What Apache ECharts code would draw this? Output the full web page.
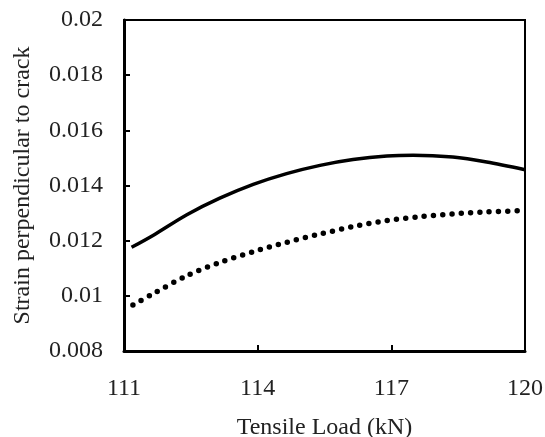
<!DOCTYPE html>
<html>
<head>
<meta charset="utf-8">
<script src="https://cdn.jsdelivr.net/npm/echarts@6/dist/echarts.min.js"></script>
<style>
html,body{margin:0;padding:0;background:#fff;}
#chart{width:545px;height:437px;}
</style>
</head>
<body>
<div id="chart"></div>
<script>
var loadSolid = [111.17, 111.66, 112.41, 113.15, 113.9, 114.65, 115.4, 116.14, 116.9, 117.49, 118.38, 119.14, 120.0];
var strainSolid = [0.01176, 0.0122, 0.01294, 0.01354, 0.01404, 0.01443, 0.01473, 0.01494, 0.01507, 0.0151, 0.01503, 0.01485, 0.01457];
var loadDotted = [111.2, 111.66, 112.41, 113.15, 113.9, 114.65, 115.4, 116.14, 116.9, 117.64, 118.38, 119.14, 119.95];
var strainDotted = [0.00967, 0.01008, 0.01073, 0.01121, 0.0116, 0.01194, 0.01224, 0.01251, 0.01273, 0.01287, 0.01297, 0.01304, 0.01309];
var xTicks = [111, 114, 117, 120];
var yTicks = [0.008, 0.01, 0.012, 0.014, 0.016, 0.018, 0.02];

function pairs(xs, ys){ return xs.map(function(x,i){ return [x, ys[i]]; }); }

var font = "'Liberation Serif', 'Times New Roman', serif";
var chart = echarts.init(document.getElementById('chart'), null, {renderer:'canvas'});
chart.setOption({
  animation: false,
  grid: {left:124, right:20, top:20, bottom:86, containLabel:false, outerBoundsMode:'none',
         show:true, borderColor:'#000', borderWidth:2, backgroundColor:'transparent'},
  xAxis: {
    type:'value', min:xTicks[0], max:xTicks[xTicks.length-1], interval:3,
    name:'Tensile Load (kN)', nameLocation:'middle', nameGap:65,
    nameTextStyle:{fontFamily:font, fontSize:24, color:'#222'},
    axisLine:{show:true, onZero:false, lineStyle:{color:'#000', width:3}},
    axisTick:{show:true, inside:true, length:6, lineStyle:{color:'#000', width:2}},
    axisLabel:{fontFamily:font, fontSize:24, color:'#222', margin:26},
    splitLine:{show:false}
  },
  yAxis: {
    type:'value', min:yTicks[0], max:yTicks[yTicks.length-1], interval:0.002,
    name:'Strain perpendicular to crack', nameLocation:'middle', nameGap:89,
    nameTextStyle:{fontFamily:font, fontSize:24, color:'#222'},
    axisLine:{show:true, onZero:false, lineStyle:{color:'#000', width:3}},
    axisTick:{show:true, inside:true, length:6, lineStyle:{color:'#000', width:2}},
    axisLabel:{fontFamily:font, fontSize:24, color:'#222', margin:21,
      formatter:function(v){ return String(parseFloat(v.toFixed(3))); }},
    splitLine:{show:false}
  },
  series: [
    {type:'line', data:pairs(loadSolid, strainSolid), smooth:0.3, showSymbol:false, symbol:'none',
     lineStyle:{color:'#000', width:3.5}},
    {type:'line', data:pairs(loadDotted, strainDotted), smooth:0.3, showSymbol:false, symbol:'none',
     lineStyle:{color:'#000', width:5.5, type:[0, 9.3], cap:'round'}}
  ]
});
</script>
</body>
</html>
